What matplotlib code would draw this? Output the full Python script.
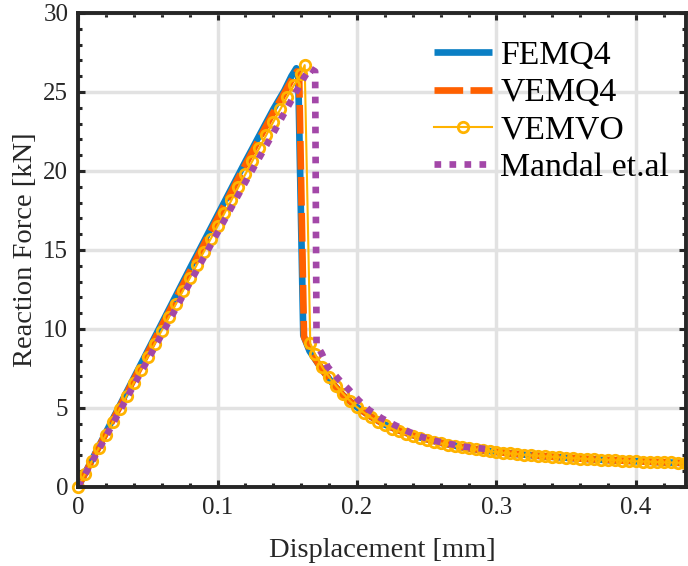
import numpy as np
import matplotlib.pyplot as plt

plt.rcParams['font.family'] = ['Liberation Serif', 'DejaVu Serif']

# FEMQ4
fem_x = [0, 0.02, 0.04, 0.06, 0.08, 0.10, 0.12, 0.14, 0.148, 0.153, 0.1565, 0.1578,
         0.1615, 0.166, 0.176, 0.183, 0.190, 0.200, 0.210, 0.220, 0.230, 0.245,
         0.260, 0.275, 0.290, 0.310, 0.330, 0.350, 0.375, 0.400, 0.420, 0.44]
fem_y = [0, 3.45, 6.9, 10.35, 13.8, 17.2, 20.6, 23.9, 25.1, 26.0, 26.5, 26.3,
         9.6, 8.6, 7.3, 6.5, 5.8, 5.05, 4.45, 3.95, 3.58, 3.14,
         2.80, 2.52, 2.32, 2.12, 1.97, 1.85, 1.72, 1.63, 1.56, 1.5]

# VEMQ4
vq4_x = [0, 0.02, 0.04, 0.06, 0.08, 0.10, 0.12, 0.14, 0.149, 0.154, 0.157, 0.1585,
         0.162, 0.167, 0.176, 0.183, 0.190, 0.200, 0.210, 0.220, 0.230, 0.245,
         0.260, 0.275, 0.290, 0.310, 0.330, 0.350, 0.375, 0.400, 0.420, 0.44]
vq4_y = [0, 3.4, 6.8, 10.2, 13.6, 17.0, 20.4, 23.7, 25.1, 25.9, 26.3, 26.1,
         9.5, 8.5, 7.3, 6.5, 5.8, 5.05, 4.45, 3.95, 3.58, 3.14,
         2.80, 2.52, 2.32, 2.12, 1.97, 1.85, 1.72, 1.63, 1.56, 1.5]

# VEMVO
vo_x = [0.000, 0.005, 0.010, 0.015, 0.020, 0.025, 0.030, 0.035, 0.040, 0.045,
        0.050, 0.055, 0.060, 0.065, 0.070, 0.075, 0.080, 0.085, 0.090, 0.095,
        0.100, 0.105, 0.110, 0.115, 0.120, 0.125, 0.130, 0.135, 0.140, 0.145,
        0.150, 0.155, 0.160, 0.1625,
        0.1665, 0.170, 0.175, 0.180, 0.185, 0.190, 0.195, 0.200, 0.205, 0.210,
        0.215, 0.220, 0.225, 0.230, 0.235, 0.240, 0.245, 0.250, 0.255, 0.260,
        0.265, 0.270, 0.275, 0.280, 0.285, 0.290, 0.295, 0.300, 0.305, 0.310,
        0.315, 0.320, 0.325, 0.330, 0.335, 0.340, 0.345, 0.350, 0.355, 0.360,
        0.365, 0.370, 0.375, 0.380, 0.385, 0.390, 0.395, 0.400, 0.405, 0.410,
        0.415, 0.420, 0.425, 0.430, 0.435]
vo_y = [0.00, 0.83, 1.65, 2.48, 3.30, 4.13, 4.95, 5.78, 6.60, 7.43,
        8.25, 9.08, 9.90, 10.73, 11.55, 12.38, 13.20, 14.03, 14.85, 15.68,
        16.50, 17.33, 18.15, 18.98, 19.80, 20.63, 21.45, 22.28, 23.10, 23.90,
        24.70, 25.45, 26.15, 26.70,
        9.10, 8.40, 7.60, 6.95, 6.40, 5.90, 5.45, 5.05, 4.70, 4.40,
        4.13, 3.90, 3.70, 3.52, 3.36, 3.22, 3.09, 2.97, 2.86, 2.76,
        2.67, 2.59, 2.51, 2.44, 2.38, 2.32, 2.26, 2.21, 2.16, 2.12,
        2.08, 2.04, 2.00, 1.97, 1.94, 1.91, 1.88, 1.85, 1.82, 1.80,
        1.77, 1.75, 1.73, 1.71, 1.69, 1.67, 1.65, 1.63, 1.61, 1.60,
        1.58, 1.56, 1.55, 1.53, 1.52]

# Mandal et.al
md_x = [0, 0.02, 0.04, 0.06, 0.08, 0.10, 0.12, 0.14, 0.155, 0.162, 0.1663, 0.170,
        0.171, 0.1747, 0.179, 0.1866, 0.194, 0.201, 0.2086, 0.2177, 0.227, 0.237,
        0.246, 0.257, 0.2667, 0.277, 0.288, 0.2975]
md_y = [0, 3.2, 6.45, 9.65, 12.9, 16.1, 19.3, 22.4, 24.8, 25.9, 26.5, 26.3,
        9.0, 8.46, 7.6, 6.84, 6.18, 5.5, 4.87, 4.35, 3.92, 3.5,
        3.18, 2.9, 2.72, 2.55, 2.45, 2.34]

fig = plt.figure(figsize=(6.88, 5.66), dpi=100)
ax = fig.add_axes([0.1134, 0.1396, 0.8840, 0.8375])

ax.plot(fem_x, fem_y, color='#0A7FC4', lw=4.8, solid_capstyle='butt', label='FEMQ4')
ax.plot(vq4_x, vq4_y, color='#FF6000', lw=4.8, dashes=(4.3, 1.1), label='VEMQ4')
ax.plot(vo_x, vo_y, color='#FFB300', lw=1.5, marker='o', ms=7.5, mfc='none',
        mew=2.0, label='VEMVO', clip_on=False)
ax.plot(md_x, md_y, color='#A347A8', lw=4.8, dashes=(1, 1.25), label='Mandal et.al')

ax.set_xlim(0, 0.436)
ax.set_ylim(0, 30)
ax.set_xticks([0, 0.1, 0.2, 0.3, 0.4])
ax.set_xticklabels(['0', '0.1', '0.2', '0.3', '0.4'])
ax.set_yticks([0, 5, 10, 15, 20, 25, 30])
ax.set_xticks(np.arange(0, 0.44, 0.02), minor=True)
ax.set_yticks(np.arange(0, 31, 1), minor=True)

ax.grid(True, which='major', color='#E2E2E2', lw=2.5)
ax.set_axisbelow(True)
for s in ax.spines.values():
    s.set_linewidth(2.8)
    s.set_color('#262626')
ax.tick_params(which='both', direction='in', top=True, right=True,
               color='#262626', labelsize=18, labelcolor='#262626', pad=7)
ax.tick_params(which='major', length=5, width=2.2)
ax.tick_params(which='minor', length=3, width=2.2)

ax.set_xlabel('Displacement [mm]', fontsize=20.5, color='#262626', labelpad=14)
ax.set_ylabel('Reaction Force [kN]', fontsize=20.5, color='#262626', labelpad=4)

leg = ax.legend(loc='upper right', bbox_to_anchor=(1.005, 0.985), frameon=False,
                fontsize=24.3, handlelength=1.7, handletextpad=0.25,
                labelspacing=0.2, borderaxespad=0.2)

fig.savefig('out.png', dpi=100)
